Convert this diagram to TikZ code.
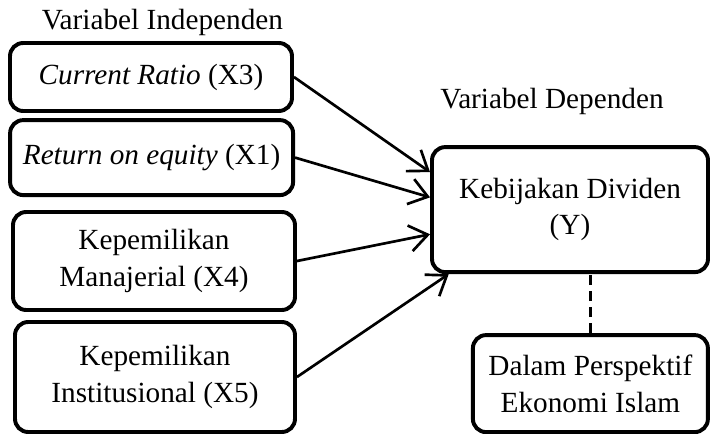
\documentclass[tikz,border=0pt]{standalone}
\usepackage{fontspec}
\setmainfont{Liberation Serif}
\usetikzlibrary{arrows.meta}

\begin{document}
\begin{tikzpicture}[font=\fontsize{20.8}{26}\selectfont,
		varbox/.style={draw,line width=2.8pt,rounded corners=0.33cm,align=center,inner sep=0pt},
		panah/.style={-{Straight Barb[length=0.45cm,width=0.65cm]},line width=1.9pt}]
		\useasboundingbox (0,0) rectangle (17.775,-10.85);
		\node (judulx) at (4.06cm,-0.55cm) {Variabel Independen};
		\node (juduly) at (13.8cm,-2.53cm) {Variabel Dependen};
		\node[varbox,minimum width=7.05cm,minimum height=1.7cm] (x3) at (3.775cm,-1.925cm) {\textit{Current Ratio} (X3)};
		\node[varbox,minimum width=7.075cm,minimum height=1.875cm] (x1) at (3.79cm,-3.94cm) {\textit{Return on equity} (X1)};
		\node[varbox,minimum width=7.05cm,minimum height=2.45cm] (x4) at (3.85cm,-6.525cm) {Kepemilikan\\Manajerial (X4)};
		\node[varbox,minimum width=7cm,minimum height=2.75cm] (x5) at (3.875cm,-9.425cm) {Kepemilikan\\Institusional (X5)};
		\node[varbox,minimum width=6.9cm,minimum height=3.125cm] (y) at (14.25cm,-5.24cm) {Kebijakan Dividen\\(Y)};
		\node[varbox,minimum width=5.875cm,minimum height=2.425cm] (islam) at (14.76cm,-9.59cm) {Dalam Perspektif\\Ekonomi Islam};
		\draw[panah](x3.east)--(y.165);
		\draw[panah](x1.east)--(y.175);
		\draw[panah](x4.east)--(y.190);
		\draw[panah](x5.east)--(y.208);
		\draw[dash pattern=on 0.25cm off 0.15cm,line width=1.9pt](islam.north)--(islam.north |- y.south);
	\end{tikzpicture}
\end{document}
